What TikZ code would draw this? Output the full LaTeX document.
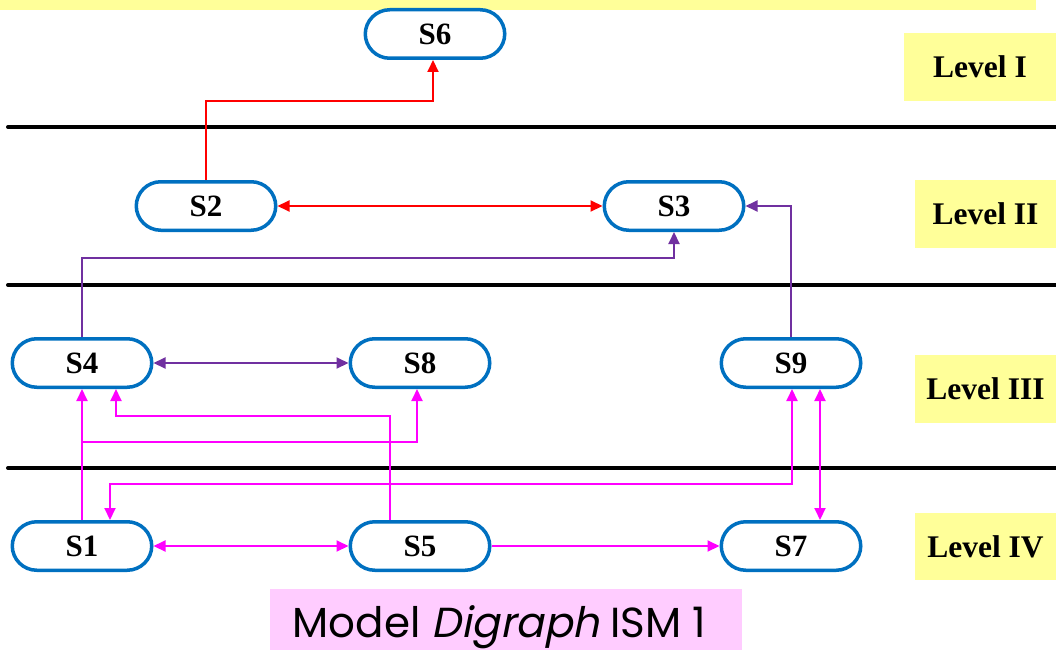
\documentclass[tikz,border=0pt]{standalone}
\usepackage{fontspec}
\setmainfont{Liberation Serif}
\newfontfamily\capfont{Poppins}
\newfontfamily\capslant[FakeSlant=0.2]{Poppins}
\usetikzlibrary{arrows.meta,calc}
\definecolor{nodeblue}{HTML}{0070C0}
\definecolor{lvlyellow}{HTML}{FFFF99}
\definecolor{cappink}{HTML}{FFCCFF}
\definecolor{linkred}{HTML}{FF0000}
\definecolor{linkpurple}{HTML}{7030A0}
\definecolor{linkmagenta}{HTML}{FF00FF}
\tikzset{
  >={Triangle[length=12pt,width=11pt]},
  stagebox/.style={draw=nodeblue, line width=3.5pt, rounded corners=24.5pt,
    minimum width=139.5pt, minimum height=48.5pt, inner sep=0pt,
    font=\fontsize{31}{31}\selectfont\bfseries},
  lvlbox/.style={fill=lvlyellow, inner sep=0pt,
    font=\fontsize{31.5}{31.5}\selectfont\bfseries},
  redlink/.style={draw=linkred, line width=2pt},
  purplelink/.style={draw=linkpurple, line width=2pt},
  magentalink/.style={draw=linkmagenta, line width=2pt},
  divider/.style={line width=4pt, line cap=round}
}
\begin{document}
\begin{tikzpicture}[x=1pt,y=-1pt]
\useasboundingbox (0,0) rectangle (1056,650);

% header strip
\fill[lvlyellow] (0,0) rectangle (1036,10);

% level dividers
\draw[divider] (8,127) -- (1060,127);
\draw[divider] (8,285) -- (1060,285);
\draw[divider] (8,468) -- (1060,468);

% level tags
\node[lvlbox, minimum width=152pt, minimum height=68pt] (L1) at (980,67) {Level I};
\node[lvlbox, minimum width=141pt, minimum height=68pt] (L2) at (985.5,214) {Level II};
\node[lvlbox, minimum width=141pt, minimum height=68pt] (L3) at (985.5,389) {Level III};
\node[lvlbox, minimum width=141pt, minimum height=67pt] (L4) at (985.5,546.5) {Level IV};

% stages
\node[stagebox] (S6) at (435,34) {S6};
\node[stagebox] (S2) at (206,206) {S2};
\node[stagebox] (S3) at (674,206) {S3};
\node[stagebox] (S4) at (82,363) {S4};
\node[stagebox] (S8) at (420,363) {S8};
\node[stagebox] (S9) at (791,363) {S9};
\node[stagebox] (S1) at (82,546) {S1};
\node[stagebox] (S5) at (420,546) {S5};
\node[stagebox] (S7) at (791,546) {S7};

% level II links
\draw[redlink,->] (S2.north) -- ++(0,-79) -| ($(S6.south)+(-2,0)$);
\draw[redlink,<->] (S2) -- (S3);

% level III links
\draw[purplelink,->] (S4.north) -- ++(0,-79) -| (S3.south);
\draw[purplelink,->] (S9.north) |- (S3.east);
\draw[purplelink,<->] (S4) -- (S8);

% level IV links
\draw[magentalink,->] (S1.north) -- (S4.south);
\draw[magentalink,->] ($(S1.north)+(0,-78)$) -| ($(S8.south)+(-3,0)$);
\draw[magentalink,->] ($(S5.north)+(-30,0)$) -- ++(0,-104) -| ($(S4.south)+(34,0)$);
\draw[magentalink,<->] ($(S1.north)+(28,0)$) -- ++(0,-36) -| ($(S9.south)+(1,0)$);
\draw[magentalink,<->] ($(S9.south)+(29,0)$) -- ($(S7.north)+(29,0)$);
\draw[magentalink,<->] (S1) -- (S5);
\draw[magentalink,->] (S5) -- (S7);

% caption
\fill[cappink] (270,589) rectangle (742,650);
\node[anchor=base, inner sep=0pt, font=\fontsize{42}{42}\selectfont] (cap) at (499.5,637)
  {\capfont Model \capslant Digraph\capfont{} ISM 1};
\end{tikzpicture}
\end{document}
